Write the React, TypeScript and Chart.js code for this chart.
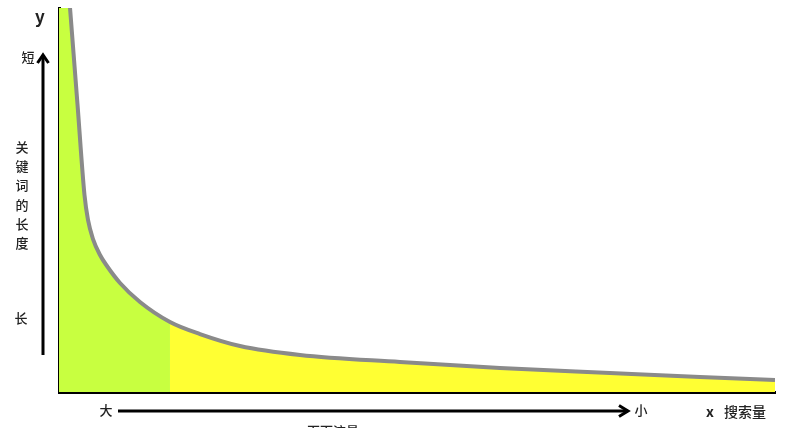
import React, { useEffect, useRef } from "react";
import { Chart, registerables } from "chart.js";

Chart.register(...registerables);

// Long-tail curve (x: 搜索量 / 页面流量 direction, y: 关键词的长度)
const curveX = [1.33, 1.54, 2.58, 3.56, 4.05, 4.75, 5.73, 6.7, 8.52, 11.31, 15.5, 19.69, 25.28, 33.66, 47.63, 61.59, 76.96, 89.53, 100];
const curveY = [105, 100, 75, 51.3, 44.8, 39.84, 35.68, 32.81, 28.39, 23.44, 18.23, 15.1, 11.98, 9.64, 7.81, 6.25, 4.95, 3.91, 3.13];
const splitX = 15.5; // boundary between head (green) and long tail (yellow)

const yLabelChars = ["关", "键", "词", "的", "长", "度"];
const labels = {
  yAxis: "y",
  short: "短",
  long: "长",
  big: "大",
  small: "小",
  xAxis: "x",
  xName: "搜索量",
  traffic: "页面流量",
};

const FONT = '"Noto Sans CJK SC", "Noto Sans", sans-serif';

const pts = curveX.map((x, i) => ({ x, y: curveY[i] }));
const headPts = [{ x: 0, y: 105 }, ...pts.filter((p) => p.x <= splitX)];
const tailPts = pts.filter((p) => p.x >= splitX);

const annotations = {
  id: "annotations",
  afterDraw(chart: any) {
    const ctx = chart.ctx as CanvasRenderingContext2D;
    const a = chart.chartArea;
    ctx.save();
    ctx.fillStyle = "#222";
    ctx.textAlign = "center";
    ctx.textBaseline = "middle";

    // y label
    ctx.font = `bold 17px ${FONT}`;
    ctx.fillText(labels.yAxis, a.left - 19, 17);

    ctx.font = `500 13px ${FONT}`;
    ctx.fillText(labels.short, a.left - 31, 57);
    yLabelChars.forEach((c, i) => ctx.fillText(c, a.left - 37, 147 + i * 19.2));
    ctx.fillText(labels.long, a.left - 38, 318);

    // vertical arrow
    ctx.strokeStyle = "#000";
    ctx.lineWidth = 3;
    const vx = a.left - 16;
    ctx.beginPath();
    ctx.moveTo(vx, 355);
    ctx.lineTo(vx, 55);
    ctx.stroke();
    ctx.beginPath();
    ctx.moveTo(vx - 5.5, 63);
    ctx.lineTo(vx, 55);
    ctx.lineTo(vx + 5.5, 63);
    ctx.stroke();

    // horizontal arrow
    const hy = a.bottom + 19;
    ctx.beginPath();
    ctx.moveTo(118, hy);
    ctx.lineTo(628, hy);
    ctx.stroke();
    ctx.beginPath();
    ctx.moveTo(619, hy - 5.5);
    ctx.lineTo(628, hy);
    ctx.lineTo(619, hy + 5.5);
    ctx.stroke();

    ctx.font = `500 13px ${FONT}`;
    ctx.fillText(labels.big, 106, hy - 1);
    ctx.fillText(labels.small, 641, hy - 1);

    ctx.font = `bold 14px ${FONT}`;
    ctx.fillText(labels.xAxis, 710, hy + 1);
    ctx.font = `500 14px ${FONT}`;
    ctx.fillText(labels.xName, 745, hy + 1);

    ctx.font = `500 13px ${FONT}`;
    ctx.fillText(labels.traffic, 333, a.bottom + 39);
    ctx.restore();
  },
};

export default function App() {
  const ref = useRef<HTMLCanvasElement | null>(null);
  useEffect(() => {
    if (!ref.current) return;
    const chart = new Chart(ref.current, {
      type: "scatter",
      data: {
        datasets: [
          {
            data: pts,
            showLine: true,
            fill: false,
            borderColor: "#8a8a8a",
            borderWidth: 4,
            pointRadius: 0,
            cubicInterpolationMode: "monotone",
            order: 0,
          },
          {
            data: headPts,
            showLine: true,
            fill: "origin",
            backgroundColor: "#c8ff40",
            borderWidth: 0,
            pointRadius: 0,
            cubicInterpolationMode: "monotone",
            order: 1,
          },
          {
            data: tailPts,
            showLine: true,
            fill: "origin",
            backgroundColor: "#ffff33",
            borderWidth: 0,
            pointRadius: 0,
            cubicInterpolationMode: "monotone",
            order: 2,
          },
        ],
      } as any,
      options: {
        animation: false,
        responsive: false,
        devicePixelRatio: 1,
        layout: { padding: { left: 59, right: 35, top: 8, bottom: 36 } },
        plugins: { legend: { display: false }, tooltip: { enabled: false } },
        scales: {
          x: {
            type: "linear",
            min: 0,
            max: 100,
            grid: { display: false, drawTicks: false },
            ticks: { display: false },
            border: { display: true, color: "#000", width: 3 },
          },
          y: {
            type: "linear",
            min: 0,
            max: 100,
            grid: { display: false, drawTicks: false },
            ticks: { display: false },
            border: { display: true, color: "#000", width: 3 },
          },
        },
      } as any,
      plugins: [annotations],
    });
    return () => chart.destroy();
  }, []);
  return (
    <div style={{ position: "absolute", left: 0, top: 0, width: 810, height: 428, background: "#fff" }}>
      <canvas ref={ref} width={810} height={428} style={{ width: 810, height: 428, display: "block" }} />
    </div>
  );
}
